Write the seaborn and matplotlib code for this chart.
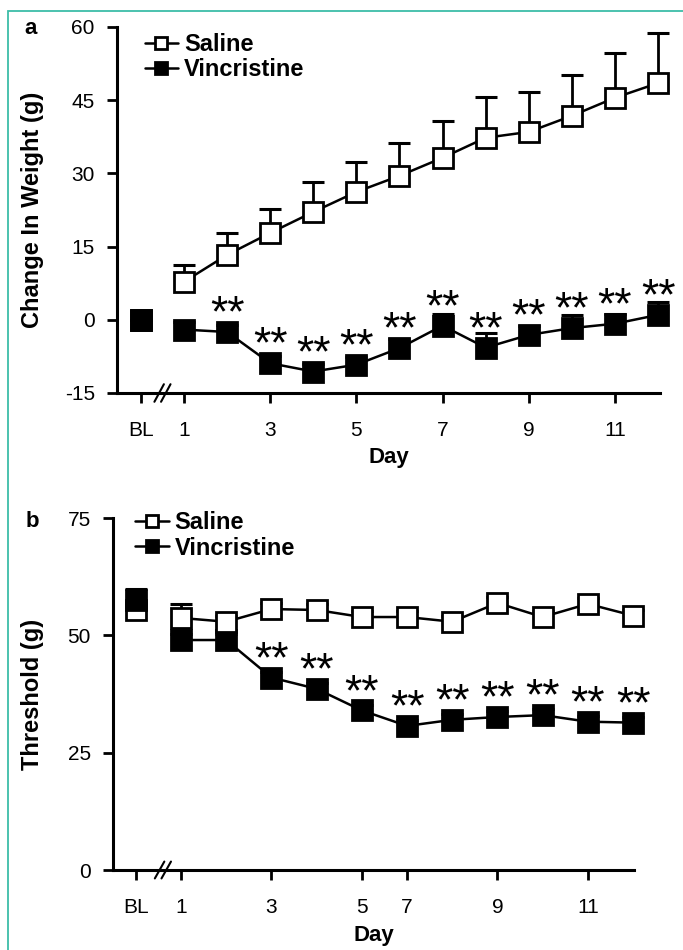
import numpy as np
import pandas as pd
import matplotlib
matplotlib.use("Agg")
import matplotlib.pyplot as plt
import matplotlib.transforms as mtransforms
from matplotlib.patches import Rectangle
import seaborn as sns

# Panel a: change in body weight (g)
a_pos = [1, 2, 3, 4, 5, 6, 7, 8, 9, 10, 11, 12]
a_saline = [7.8, 13.3, 17.8, 22.1, 26.2, 29.5, 33.2, 37.3, 38.5, 41.8, 45.5, 48.5]
a_saline_err = [3.5, 4.5, 4.9, 6.2, 6.2, 6.8, 7.6, 8.4, 8.2, 8.4, 9.2, 10.3]
a_vinc = [-2.0, -2.5, -8.9, -10.6, -9.2, -5.8, -1.2, -5.7, -3.1, -1.7, -0.8, 1.0]
a_vinc_err = [1.5, 1.5, 1.5, 1.5, 1.5, 1.8, 2.4, 2.9, 1.8, 2.7, 2.0, 2.6]
a_bl = [0.0, 0.0]          # saline, vincristine baseline
a_bl_err = [0.0, 0.0]
a_stars = [2, 3, 4, 5, 6, 7, 8, 9, 10, 11, 12]
a_ticks = [0, 1, 3, 5, 7, 9, 11]
a_ticklabels = ["BL", "1", "3", "5", "7", "9", "11"]

# Panel b: mechanical threshold (g); days 1-5,7-12 on an evenly spaced axis
b_pos = [1, 2, 3, 4, 5, 6, 7, 8, 9, 10, 11]
b_saline = [53.7, 52.9, 55.6, 55.4, 53.9, 53.9, 52.9, 56.9, 53.9, 56.7, 54.2]
b_saline_err = [3.0, 1.2, 1.2, 1.2, 1.2, 1.2, 1.2, 1.2, 1.2, 1.2, 1.2]
b_vinc = [49.0, 49.0, 41.0, 38.6, 34.0, 30.7, 32.0, 32.6, 33.0, 31.6, 31.4]
b_vinc_err = [1.2, 1.2, 1.2, 1.2, 1.2, 1.2, 1.2, 1.2, 1.2, 1.2, 1.2]
b_bl = [55.3, 57.5]
b_bl_err = [1.5, 2.3]
b_stars = [3, 4, 5, 6, 7, 8, 9, 10, 11]
b_ticks = [0, 1, 3, 5, 6, 8, 10]
b_ticklabels = ["BL", "1", "3", "5", "7", "9", "11"]

sns.set_style("ticks")
plt.rcParams['font.family'] = ['Liberation Sans', 'DejaVu Sans']
plt.rcParams.update({
    'text.color': 'black', 'axes.labelcolor': 'black', 'axes.edgecolor': 'black',
    'xtick.color': 'black', 'ytick.color': 'black', 'axes.unicode_minus': False,
})

MS = 15
MEW = 2


def up_errors(ax, x, y, err, z):
    # one-sided (upper) error bars: stem plus a cap at the top only
    top = np.asarray(y) + np.asarray(err)
    ax.errorbar(x, y, yerr=[np.zeros(len(err)), err], fmt='none', ecolor='black',
                elinewidth=2, capsize=0, zorder=z, clip_on=False)
    ax.plot(x, top, ls='none', marker='_', ms=16, mew=2.2, color='black',
            zorder=z, clip_on=False)


def draw_series(ax, x, y, err, face, label, z):
    up_errors(ax, x, y, err, z - 0.5)
    df = pd.DataFrame({'x': x, 'y': y})
    sns.lineplot(data=df, x='x', y='y', ax=ax, color='black', linewidth=1.8,
                 marker='s', markersize=MS, markerfacecolor=face,
                 markeredgecolor='black', markeredgewidth=MEW,
                 label=label, zorder=z, clip_on=False, errorbar=None)


def draw_panel(ax, pos, sal, sal_err, vin, vin_err, bl, bl_err, stars, ticks,
               ticklabels, xlim, ylim, yticks, ylabel, ylab_x, brk, brk_w,
               leg_anchor, xlabpad):
    # baseline points (not joined to the daily series)
    up_errors(ax, [0, 0], bl, bl_err, 2)
    ax.plot([0], [bl[0]], 's', ms=MS, mfc='white', mec='black', mew=MEW, zorder=3)
    ax.plot([0], [bl[1]], 's', ms=MS, mfc='black', mec='black', mew=MEW, zorder=3.5)

    draw_series(ax, pos, vin, vin_err, 'black', 'Vincristine', 5)
    draw_series(ax, pos, sal, sal_err, 'white', 'Saline', 6)

    lookup = dict(zip(pos, vin))
    for p in stars:
        ax.annotate('**', xy=(p, lookup[p]), xytext=(0, 4), textcoords='offset points',
                    ha='center', va='baseline', fontsize=32, color='black',
                    annotation_clip=False, zorder=8)

    ax.set_xlim(*xlim)
    ax.set_ylim(*ylim)
    ax.set_yticks(yticks)
    ax.set_xticks(ticks)
    ax.set_xticklabels(ticklabels)
    ax.set_xlabel('Day', fontsize=16, fontweight='bold', labelpad=xlabpad)
    ax.set_ylabel(ylabel, fontsize=17, fontweight='bold')
    ax.yaxis.set_label_coords(ylab_x, 0.5)
    ax.tick_params(axis='x', length=7, width=2, pad=13.5, labelsize=15, direction='out')
    ax.tick_params(axis='y', length=7, width=2, pad=9, labelsize=15, direction='out')
    sns.despine(ax=ax)
    for s in ('left', 'bottom'):
        ax.spines[s].set_linewidth(2.2)

    # axis break "//"
    trans = mtransforms.blended_transform_factory(ax.transData, ax.transAxes)
    for dx in (-brk_w * 0.7, brk_w * 0.7):
        ax.plot([brk + dx - brk_w, brk + dx + brk_w], [-0.024, 0.024], color='black',
                lw=1.5, transform=trans, clip_on=False, zorder=9)

    h, l = ax.get_legend_handles_labels()
    order = [l.index('Saline'), l.index('Vincristine')]
    ax.legend([h[i] for i in order], [l[i] for i in order],
              loc='upper left', bbox_to_anchor=leg_anchor, frameon=False,
              prop=dict(weight='bold', size=17), markerscale=0.62, handlelength=1.4,
              handletextpad=0.25, labelspacing=0.1, borderaxespad=0)


fig = plt.figure(figsize=(6.83, 9.5), dpi=100)
W, H = 683, 950
ax_a = fig.add_axes([117 / W, 1 - 393 / H, 543 / W, 366 / H])
ax_b = fig.add_axes([113 / W, 1 - 870 / H, 521 / W, 352 / H])

draw_panel(ax_a, a_pos, a_saline, a_saline_err, a_vinc, a_vinc_err, a_bl, a_bl_err,
           a_stars, a_ticks, a_ticklabels, (-0.555, 12.046), (-15, 60),
           [-15, 0, 15, 30, 45, 60], 'Change In Weight (g)', -0.135, 0.5, 0.11,
           (0.034, 1.010), 5)
draw_panel(ax_b, b_pos, b_saline, b_saline_err, b_vinc, b_vinc_err, b_bl, b_bl_err,
           b_stars, b_ticks, b_ticklabels, (-0.504, 11.02), (0, 75),
           [0, 25, 50, 75], 'Threshold (g)', -0.133, 0.6, 0.105,
           (0.025, 1.046), 5.5)

fig.text(31 / W, 1 - 34 / H, 'a', fontsize=16, fontweight='bold', ha='center', va='baseline')
fig.text(32 / W, 1 - 527 / H, 'b', fontsize=16, fontweight='bold', ha='center', va='baseline')

# teal frame round the figure
fig.patches.append(Rectangle((8 / W, -0.1), 2, 1.1 - 11 / H, transform=fig.transFigure,
                             fill=False, edgecolor='#3dbda8', lw=1.3))

fig.savefig('out.png', dpi=100)
